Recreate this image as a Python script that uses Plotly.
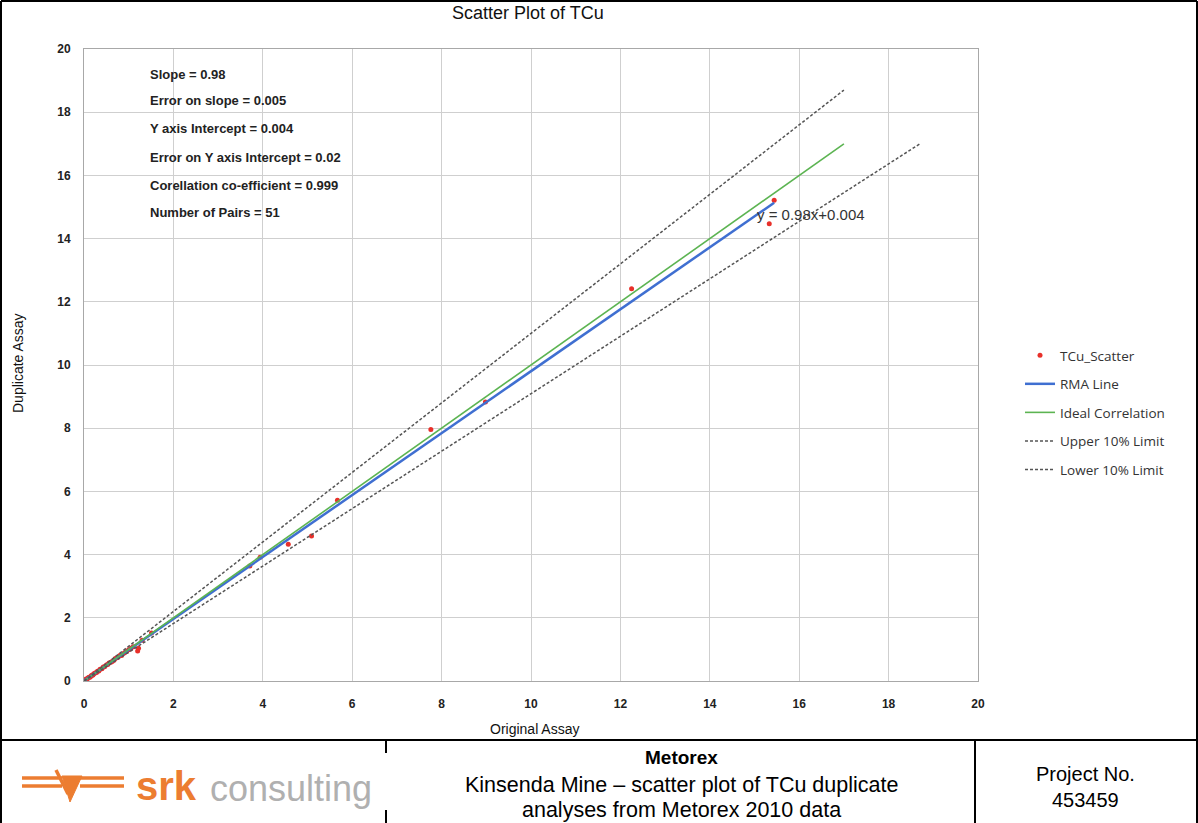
import plotly.graph_objects as go

# ---------------- data ----------------
original_assay = [0.01, 0.02, 0.03, 0.04, 0.05, 0.06, 0.08, 0.10, 0.12, 0.14, 0.16, 0.18,
                  0.20, 0.22, 0.25, 0.28, 0.30, 0.33, 0.36, 0.40, 0.43, 0.46, 0.50, 0.53,
                  0.56, 0.60, 0.63, 0.67, 0.70, 0.75, 0.80, 0.84, 0.90, 0.95, 1.00, 1.05,
                  1.10, 1.20, 1.22, 1.30, 1.51, 3.71, 3.94, 4.57, 5.09, 5.67, 7.76, 8.98,
                  12.25, 15.33, 15.44]
duplicate_assay = [0.01, 0.02, 0.03, 0.04, 0.06, 0.05, 0.08, 0.11, 0.12, 0.13, 0.17, 0.18,
                   0.19, 0.23, 0.25, 0.27, 0.31, 0.32, 0.37, 0.39, 0.44, 0.45, 0.51, 0.52,
                   0.57, 0.59, 0.62, 0.66, 0.71, 0.74, 0.81, 0.81, 0.89, 0.93, 0.99, 1.04,
                   1.08, 0.95, 1.04, 1.29, 1.52, 3.64, 3.92, 4.33, 4.59, 5.72, 7.96, 8.83,
                   12.41, 14.47, 15.21]

rma_slope = 0.98
rma_intercept = 0.004
ideal_end = 17.0
limit_factor = 1.1

stats_lines = ["Slope = 0.98", "Error on slope = 0.005", "Y axis Intercept = 0.004",
               "Error on Y axis Intercept = 0.02", "Corellation co-efficient = 0.999",
               "Number of Pairs = 51"]
tick_values = [0, 2, 4, 6, 8, 10, 12, 14, 16, 18, 20]
tick_labels = ["0", "2", "4", "6", "8", "10", "12", "14", "16", "18", "20"]
equation_text = "y = 0.98x+0.004"

# derived line series
rma_x = [0.0, max(original_assay)]
rma_y = [rma_slope * v + rma_intercept for v in rma_x]
ideal_x = [0.0, ideal_end]
ideal_y = list(ideal_x)
upper_x = list(ideal_x)
upper_y = [v * limit_factor for v in ideal_x]
lower_y = list(ideal_x)
lower_x = [v * limit_factor for v in ideal_x]

# ---------------- layout helpers ----------------
WIDTH, HEIGHT = 1198, 823
L, R, T, B = 84, 978, 49, 681
PW, PH = R - L, B - T


def px(x):
    return (x - L) / PW


def py(y):
    return (B - y) / PH


FONT = "Liberation Sans, Arial, sans-serif"

fig = go.Figure()
fig.add_trace(go.Scatter(x=original_assay, y=duplicate_assay, mode="markers", name="TCu_Scatter",
                         marker=dict(color="#e8302a", size=5), legendgroup="a"))
fig.add_trace(go.Scatter(x=rma_x, y=rma_y, mode="lines", name="RMA Line",
                         line=dict(color="#3f6fd1", width=2.5), legendgroup="b"))
fig.add_trace(go.Scatter(x=ideal_x, y=ideal_y, mode="lines", name="Ideal Correlation",
                         line=dict(color="#5cb452", width=1.6), legendgroup="c"))
fig.add_trace(go.Scatter(x=upper_x, y=upper_y, mode="lines", name="Upper 10% Limit",
                         line=dict(color="#555555", width=1.5, dash="3px,2px"), legendgroup="d"))
fig.add_trace(go.Scatter(x=lower_x, y=lower_y, mode="lines", name="Lower 10% Limit",
                         line=dict(color="#555555", width=1.5, dash="3px,2px"), legendgroup="e"))

axis_common = dict(range=[0, 20], tickvals=tick_values, ticktext=tick_labels,
                   showgrid=True, gridcolor="#cfcfcf", gridwidth=1,
                   showline=True, linecolor="#a8a8a8", linewidth=1, mirror=True,
                   zeroline=False, ticks="",
                   tickfont=dict(family=FONT, size=12, color="#222222", weight="bold"))

fig.update_xaxes(**axis_common, ticklabelstandoff=12)
fig.update_yaxes(**axis_common, ticklabelstandoff=10)

annotations = []


def add_text(x, y, text, size, xanchor="center", color="#000", family=FONT, angle=0):
    annotations.append(dict(x=px(x), y=py(y), xref="paper", yref="paper", text=text,
                            showarrow=False, textangle=angle,
                            font=dict(family=family, size=size, color=color),
                            xanchor=xanchor, yanchor="middle"))


# title and axis titles
add_text(528, 13, "Scatter Plot of TCu", 18, color="#111")
add_text(534, 729, "Original Assay", 14, color="#111")
add_text(18, 363, "Duplicate Assay", 14, color="#111", angle=-90)
# stats block
stat_y = [74, 100, 128, 157, 185, 212]
for txt, yy in zip(stats_lines, stat_y):
    add_text(148, yy, "<b>%s</b>" % txt, 13, xanchor="left", color="#222")
# equation
add_text(755, 215, equation_text, 15, xanchor="left", color="#333")
# footer texts
add_text(681, 757, "<b>Metorex</b>", 19)
add_text(681, 785, "Kinsenda Mine \u2013 scatter plot of TCu duplicate", 21.5)
add_text(681, 810, "analyses from Metorex 2010 data", 21.5)
add_text(1085, 774, "Project No.", 20)
add_text(1085, 800, "453459", 20)
# logo text
add_text(134, 786, "<b>srk</b>", 40, xanchor="left", color="#ec7d31")
add_text(208, 788, "consulting", 36, xanchor="left", color="#b0b0b0")


def line_shape(x0, y0, x1, y1, color="#000", width=2):
    return dict(type="line", xref="paper", yref="paper", x0=px(x0), y0=py(y0), x1=px(x1), y1=py(y1),
                line=dict(color=color, width=width))


shapes = [
    line_shape(1, 1, 1197, 1),
    line_shape(1, 1, 1, 823),
    line_shape(1197, 1, 1197, 823),
    line_shape(0, 740, 1198, 740),
    line_shape(386, 740, 386, 753),
    line_shape(386, 810, 386, 823),
    line_shape(975, 740, 975, 823),
]
# logo symbol (orange)
orange = "#ec7d31"
shapes.append(dict(type="path", xref="paper", yref="paper",
                   path="M %f,%f L %f,%f L %f,%f Z" % (px(62), py(776), px(82), py(776), px(70), py(802)),
                   fillcolor=orange, line=dict(color=orange, width=1)))
for yy in (778, 786):
    shapes.append(line_shape(22, yy, 62, yy, color=orange, width=3.5))
    shapes.append(line_shape(80, yy, 124, yy, color=orange, width=3.5))
shapes.append(line_shape(56, 770, 68, 794, color=orange, width=3.5))

fig.update_layout(
    width=WIDTH, height=HEIGHT,
    margin=dict(l=L, r=WIDTH - R, t=T, b=HEIGHT - B, autoexpand=False),
    paper_bgcolor="white", plot_bgcolor="white",
    showlegend=True,
    legend=dict(x=px(1020), y=py(340), xanchor="left", yanchor="top",
                font=dict(family="Open Sans, Liberation Sans, sans-serif", size=13.5, color="#333"),
                tracegroupgap=8, bgcolor="rgba(0,0,0,0)"),
    annotations=annotations,
    shapes=shapes,
)

fig.write_html("out.html", config={"displayModeBar": False},
               post_script="document.body.style.margin='0';document.body.style.overflow='hidden';")
